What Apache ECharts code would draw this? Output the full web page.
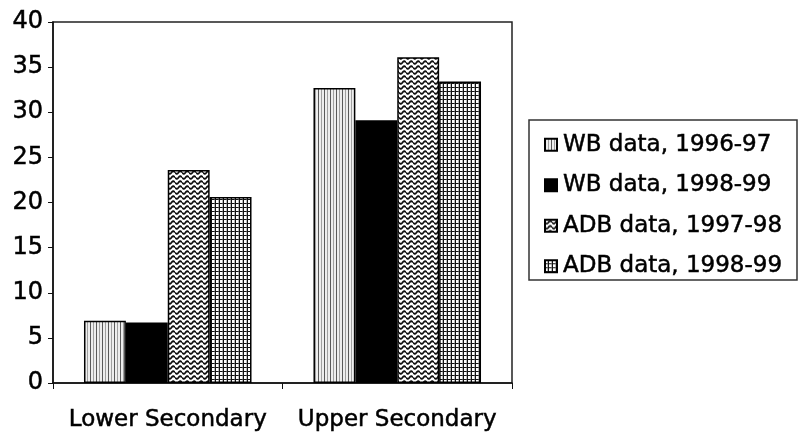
<!DOCTYPE html>
<html>
<head>
<meta charset="utf-8">
<script src="https://cdn.jsdelivr.net/npm/echarts@6/dist/echarts.min.js"></script>
<style>
  html, body { margin: 0; padding: 0; background: #fff; }
  #chart { width: 799px; height: 435px; }
</style>
</head>
<body>
<div id="chart"></div>
<script>
// data
var categories = ["Lower Secondary", "Upper Secondary"];
var seriesNames = ["WB data, 1996-97", "WB data, 1998-99", "ADB data, 1997-98", "ADB data, 1998-99"];
var wb9697 = [6.9, 32.7];
var wb9899 = [6.7, 29.1];
var adb9798 = [23.6, 36.1];
var adb9899 = [20.6, 33.4];
var yTicks = [0, 5, 10, 15, 20, 25, 30, 35, 40];

var FONT = "DejaVu Sans";
// a thin outline makes the text look as heavy as the scanned print
var inkText = { fontFamily: FONT, color: "#000", textBorderColor: "#000", textBorderWidth: 0.5 };

// small canvas fills that imitate the printed hatching
function makePattern(w, h, draw) {
  var c = document.createElement("canvas");
  c.width = w;
  c.height = h;
  var ctx = c.getContext("2d");
  draw(ctx, w, h);
  return { image: c, repeat: "repeat" };
}

var stripes = makePattern(6, 6, function (ctx, w, h) {
  ctx.fillStyle = "#eeeeee";
  ctx.fillRect(0, 0, w, h);
  ctx.fillStyle = "#5a5a5a";
  ctx.fillRect(0, 0, 1, h);
  ctx.fillStyle = "#a0a0a0";
  ctx.fillRect(3, 0, 1, h);
});

var waves = makePattern(7, 5, function (ctx, w, h) {
  ctx.fillStyle = "#fff";
  ctx.fillRect(0, 0, w, h);
  ctx.strokeStyle = "#111";
  ctx.lineWidth = 1.8;
  ctx.beginPath();
  for (var x = 0; x <= w; x += 0.5) {
    var y = 2.5 + 1.3 * Math.sin((2 * Math.PI * x) / w);
    if (x === 0) ctx.moveTo(x, y); else ctx.lineTo(x, y);
  }
  ctx.stroke();
});

var grid = makePattern(4, 4, function (ctx, w, h) {
  ctx.fillStyle = "#fff";
  ctx.fillRect(0, 0, w, h);
  ctx.fillStyle = "#111";
  ctx.fillRect(3, 0, 1, h);
  ctx.fillRect(0, 3, w, 1);
  ctx.fillStyle = "#777";
  ctx.fillRect(2, 0, 0.5, h);
});

var fills = [stripes, "#000", waves, grid];
var values = [wb9697, wb9899, adb9798, adb9899];

var chart = echarts.init(document.getElementById("chart"));

var option = {
  animation: false,
  backgroundColor: "#fff",
  grid: {
    left: 53,
    right: 287,
    top: 22,
    bottom: 52,
    show: true,
    borderColor: "#222",
    borderWidth: 1.5
  },
  legend: {
    orient: "vertical",
    left: 539,
    top: 128,
    itemWidth: 12,
    itemHeight: 12,
    itemGap: 17,
    icon: "rect",
    data: seriesNames,
    textStyle: Object.assign({ fontSize: 23, padding: [0, 0, 0, 1] }, inkText)
  },
  graphic: [{
    type: "rect",
    shape: { x: 529, y: 120, width: 268, height: 160 },
    style: { fill: "none", stroke: "#333", lineWidth: 1.5 }
  }],
  xAxis: {
    type: "category",
    data: categories,
    axisLine: { lineStyle: { color: "#111", width: 1.5 } },
    axisTick: { show: true, length: 6, lineStyle: { color: "#111" } },
    axisLabel: Object.assign({ fontSize: 23, margin: 26, interval: 0 }, inkText)
  },
  yAxis: {
    type: "value",
    min: 0,
    max: yTicks[yTicks.length - 1],
    interval: yTicks[1] - yTicks[0],
    axisLine: { show: true, lineStyle: { color: "#111", width: 1.5 } },
    axisTick: { show: true, length: 5, lineStyle: { color: "#111" } },
    splitLine: { show: false },
    axisLabel: Object.assign({ fontSize: 24, margin: 10 }, inkText)
  },
  series: seriesNames.map(function (name, i) {
    return {
      name: name,
      type: "bar",
      data: values[i],
      barGap: "0%",
      barCategoryGap: "27%",
      itemStyle: { color: fills[i], borderColor: "#000", borderWidth: 1.5 }
    };
  })
};

chart.setOption(option);
</script>
</body>
</html>
